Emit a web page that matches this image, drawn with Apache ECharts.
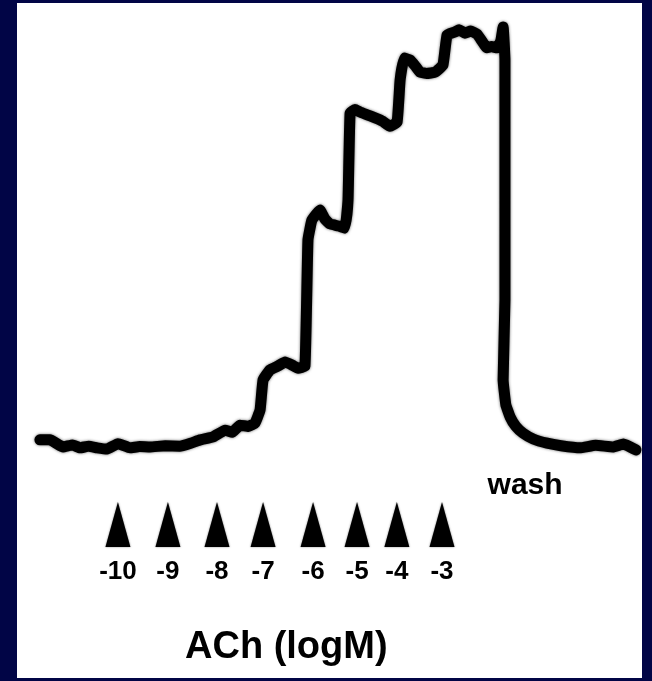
<!DOCTYPE html>
<html>
<head>
<meta charset="utf-8">
<script src="https://cdn.jsdelivr.net/npm/echarts@6/dist/echarts.min.js"></script>
<style>
  html, body { margin: 0; padding: 0; background: #010546; }
  #main { width: 652px; height: 681px; }
</style>
</head>
<body>
<div id="main"></div>
<script>
// trace: time (min) vs response (% of max)
var traceTime = [0.99, 1.43, 1.99, 2.4, 2.72, 3.1, 3.46, 3.9, 4.36, 4.88, 5.3, 5.75, 6.4, 7.04, 7.5, 7.91,
  8.47, 8.99, 9.3, 9.63, 10.0, 10.28, 10.5, 10.63, 10.93, 11.3, 11.58, 11.9, 12.14, 12.44,
  12.57, 12.74, 13.09, 13.3, 13.52, 13.9, 14.17, 14.3, 14.39, 14.6, 14.82, 15.1, 15.47, 15.8, 16.11, 16.42,
  16.55, 16.72, 16.98, 17.2, 17.41, 17.7, 18.06, 18.4, 18.58, 18.92, 19.1, 19.35, 19.6, 19.87, 20.1, 20.3,
  20.5, 20.74, 20.9, 21.0, 21.08, 21.08, 21.0, 21.12, 21.3, 21.55, 21.86, 22.3, 22.9, 23.5, 24.32, 25.0,
  25.75, 26.2, 26.74];
var traceResp = [1.8, 1.8, 0.1, 0.6, -0.1, 0.3, -0.1, -0.4, 0.9, -0.1, 0.2, 0.1, 0.4, 0.3, 1.0, 1.8,
  2.5, 4.1, 3.6, 5.3, 5.0, 5.8, 8.9, 16.1, 18.5, 19.5, 20.4, 19.6, 18.9, 19.4,
  49.5, 54.2, 56.6, 54.5, 53.3, 52.8, 52.3, 59.0, 79.7, 80.6, 80.0, 79.4, 78.6, 77.8, 76.6, 77.6,
  87.6, 92.9, 92.4, 91.0, 89.5, 89.2, 89.5, 91.2, 98.4, 99.1, 99.6, 98.8, 99.3, 98.6, 96.8, 95.3,
  95.6, 95.3, 97.0, 100.3, 92.4, 35.1, 16.1, 10.1, 7.3, 5.0, 3.4, 2.0, 1.0, 0.4, -0.1, 0.5,
  0.1, 0.8, -0.6];

// ACh additions (log M) and when they were given
var doseLabels = ['-10', '-9', '-8', '-7', '-6', '-5', '-4', '-3'];
var doseTime = [4.36, 6.52, 8.64, 10.63, 12.79, 14.69, 16.41, 18.36];
var markerLevel = -18.4;

var washTime = [21.95];
var washLevel = [-9.2];

var traceData = traceTime.map(function (t, i) { return [t, traceResp[i]]; });
var doseData = doseTime.map(function (t, i) { return { value: [t, markerLevel], name: doseLabels[i] }; });
var washData = washTime.map(function (t, i) { return [t, washLevel[i]]; });

var myChart = echarts.init(document.getElementById('main'));
var option = {
  backgroundColor: '#010546',
  animation: false,
  title: {
    text: 'ACh (logM)',
    left: 185,
    top: 629,
    padding: 0,
    textStyle: { fontFamily: 'Liberation Sans', fontWeight: 'bold', fontSize: 38, color: '#000' }
  },
  grid: {
    left: 17, right: 10, top: 3, bottom: 3,
    show: true, backgroundColor: '#ffffff', borderWidth: 0
  },
  xAxis: { type: 'value', min: 0, max: 27, show: false },
  yAxis: { type: 'value', min: -55, max: 106, show: false },
  series: [
    {
      name: 'trace',
      type: 'line',
      data: traceData,
      showSymbol: false,
      smooth: 0.1,
      lineStyle: {
        color: '#000', width: 11, join: 'round', cap: 'round',
        shadowColor: 'rgba(0,0,0,0.6)', shadowBlur: 3
      }
    },
    {
      name: 'ACh',
      type: 'scatter',
      data: doseData,
      symbol: 'triangle',
      symbolSize: [25, 45],
      itemStyle: { color: '#000', opacity: 1, shadowColor: 'rgba(0,0,0,0.5)', shadowBlur: 2 },
      label: {
        show: true,
        position: 'bottom',
        distance: 12,
        formatter: '{b}',
        fontFamily: 'Liberation Sans',
        fontWeight: 'bold',
        fontSize: 26,
        color: '#000'
      }
    },
    {
      name: 'wash',
      type: 'scatter',
      data: washData,
      symbolSize: 0,
      itemStyle: { opacity: 1 },
      label: {
        show: true,
        position: 'inside',
        formatter: 'wash',
        fontFamily: 'Liberation Sans',
        fontWeight: 'bold',
        fontSize: 30,
        color: '#000'
      }
    }
  ]
};
myChart.setOption(option);
</script>
</body>
</html>
